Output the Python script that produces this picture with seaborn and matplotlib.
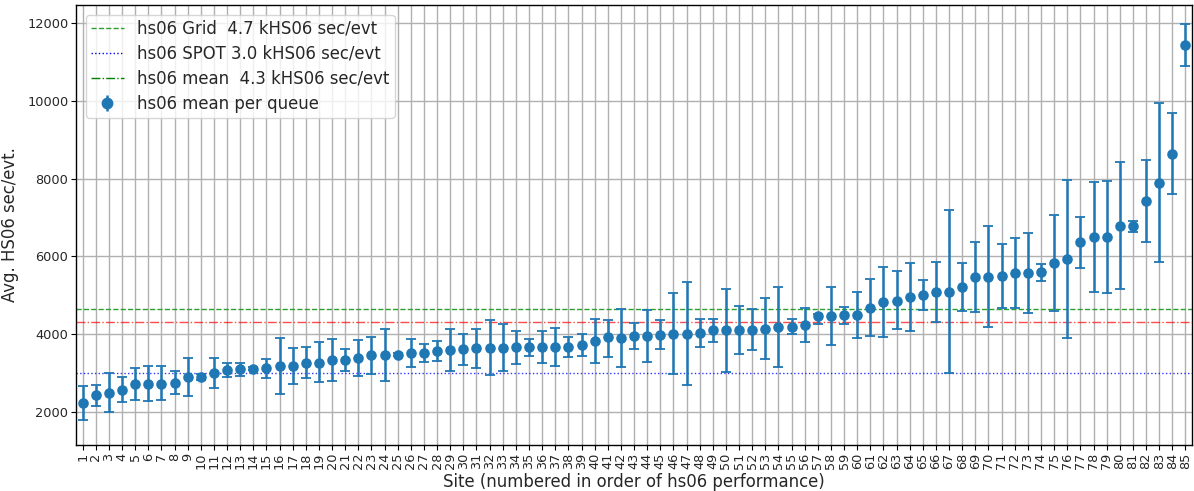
import numpy as np
import pandas as pd
import matplotlib
matplotlib.use("Agg")
import matplotlib.pyplot as plt
from matplotlib.lines import Line2D
import seaborn as sns

sites = list(range(1, 86))
means = [2219, 2433, 2493, 2570, 2715, 2732, 2732, 2750, 2904, 2912,
         2998, 3084, 3101, 3118, 3126, 3186, 3195, 3263, 3272, 3340,
         3340, 3383, 3460, 3469, 3469, 3512, 3520, 3578, 3606, 3623,
         3640, 3649, 3657, 3666, 3666, 3666, 3675, 3683, 3726, 3837,
         3923, 3906, 3957, 3966, 3991, 4009, 4017, 4034, 4103, 4111,
         4120, 4120, 4146, 4188, 4197, 4228, 4460, 4463, 4488, 4497,
         4685, 4822, 4865, 4959, 5019, 5088, 5096, 5216, 5482, 5482,
         5499, 5567, 5567, 5593, 5824, 5944, 6364, 6492, 6492, 6775,
         6775, 7426, 7900, 8640, 11442]
err_hi = [2655, 2698, 2998, 2912, 3126, 3178, 3178, 3041, 3392, 2964,
          3392, 3272, 3272, 3160, 3375, 3897, 3657, 3666, 3812, 3880,
          3623, 3854, 3931, 4137, 3510, 3880, 3743, 3829, 4128, 4000,
          4137, 4360, 4265, 4077, 3872, 4086, 4154, 3923, 4000, 4403,
          4377, 4642, 4283, 4634, 4360, 5071, 5353, 4385, 4385, 5173,
          4737, 4651, 4934, 5208, 4385, 4668, 4514, 5208, 4694, 5079,
          5413, 5722, 5619, 5824, 5405, 5867, 7186, 5833, 6373, 6775,
          6321, 6467, 6604, 5807, 7075, 7957, 7023, 7906, 7931, 8422,
          6921, 8470, 9941, 9683, 11974]
err_lo = [1782, 2150, 1987, 2244, 2313, 2287, 2296, 2458, 2415, 2810,
          2604, 2895, 2929, 3075, 2878, 2467, 2724, 2869, 2767, 2801,
          3058, 2921, 2989, 2792, 3430, 3144, 3298, 3315, 3066, 3212,
          3126, 2938, 3049, 3238, 3443, 3255, 3195, 3426, 3443, 3263,
          3409, 3161, 3632, 3298, 3632, 2964, 2698, 3666, 3812, 3024,
          3495, 3606, 3358, 3169, 4017, 3794, 4265, 3726, 4265, 3906,
          3949, 3923, 4128, 4086, 4634, 4317, 3006, 4591, 4582, 4180,
          4668, 4668, 4548, 5379, 4591, 3914, 5696, 5079, 5071, 5156,
          6638, 6381, 5850, 7610, 10902]

grid_val = 4660
spot_val = 3000
mean_val = 4308
legend_labels = ["hs06 Grid  4.7 kHS06 sec/evt",
                 "hs06 SPOT 3.0 kHS06 sec/evt",
                 "hs06 mean  4.3 kHS06 sec/evt",
                 "hs06 mean per queue"]

df = pd.DataFrame({"site": sites, "mean": means, "hi": err_hi, "lo": err_lo})

sns.set_theme(style="ticks")
plt.rcParams['font.family'] = ['DejaVu Sans']

fig = plt.figure(figsize=(11.94, 4.91), dpi=100)
ax = fig.add_axes([0.0637, 0.0937, 0.9346, 0.8961])

yerr = np.vstack([df["mean"] - df["lo"], df["hi"] - df["mean"]])
ax.axhline(grid_val, color="#2ca02c", ls="--", lw=1.0, zorder=2)
ax.axhline(spot_val, color="blue", ls=":", lw=1.0, alpha=0.8, zorder=2)
ax.axhline(mean_val, color="red", ls="-.", lw=1.0, alpha=0.7, zorder=2)
ax.errorbar(df["site"], df["mean"], yerr=yerr, fmt="none", ecolor="#1f77b4",
            elinewidth=1.8, capsize=3.5, capthick=1.3, zorder=3)
sns.scatterplot(data=df, x="site", y="mean", ax=ax, color="#1f77b4", s=58,
                edgecolor="#1f77b4", linewidth=0, legend=False, zorder=4)

ax.set_xlim(0.5, 85.5)
ax.set_ylim(1150, 12470)
ax.set_xticks(sites)
ax.set_xticklabels([str(s) for s in sites], rotation=90)
ax.set_yticks([2000, 4000, 6000, 8000, 10000, 12000])
ax.tick_params(axis="both", labelsize=9.3, length=3.5, width=0.8, color="black",
               direction="out", bottom=True, left=True, pad=2)
ax.grid(True, color="#b0b0b0", lw=1.0)
ax.set_axisbelow(True)
for sp in ax.spines.values():
    sp.set_color("black")
    sp.set_linewidth(1.0)

ax.set_xlabel("Site (numbered in order of hs06 performance)", fontsize=11.9, labelpad=2.5)
ax.set_ylabel("Avg. HS06 sec/evt.", fontsize=11.9, labelpad=6)

handles = [Line2D([], [], color="#2ca02c", ls="--", lw=1.0),
           Line2D([], [], color="blue", ls=":", lw=1.0),
           Line2D([], [], color="green", ls="-.", lw=1.0),
           ax.errorbar([], [], yerr=[], fmt="o", color="#1f77b4", ms=7.5,
                       capsize=3.5, elinewidth=1.8)]
ax.legend(handles, legend_labels, loc="upper left", fontsize=11.9,
          frameon=True, fancybox=True, framealpha=0.8, edgecolor="#cccccc",
          borderaxespad=0.6, borderpad=0.3, labelspacing=0.42)

fig.savefig("out.png", dpi=100)
